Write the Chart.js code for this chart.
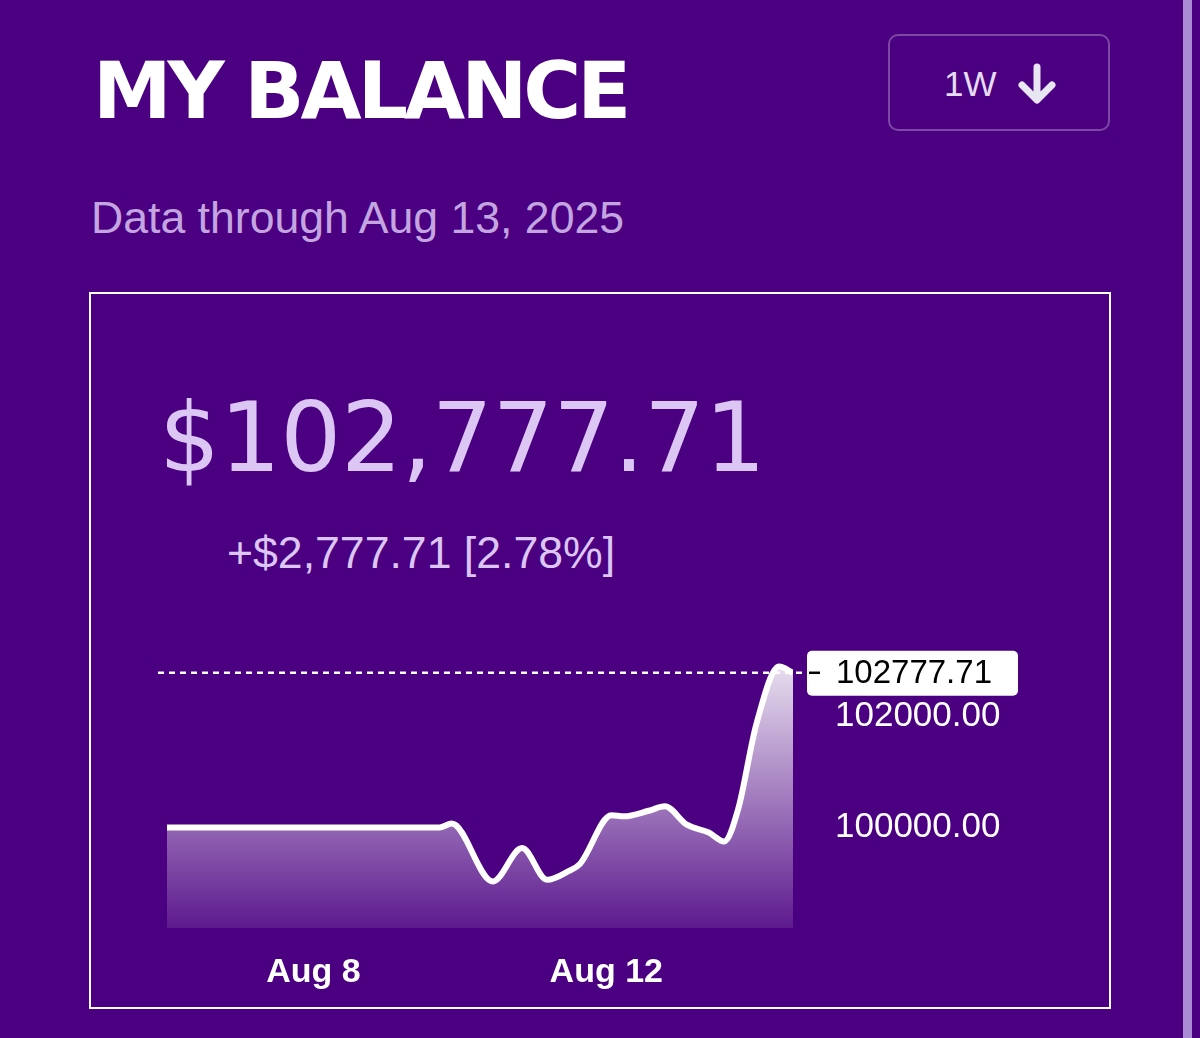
<!DOCTYPE html>
<html>
<head>
<meta charset="utf-8">
<title>My Balance</title>
<script src="https://cdn.jsdelivr.net/npm/chart.js@4.4.1/dist/chart.umd.min.js"></script>
<style>
  html, body {
    margin: 0;
    padding: 0;
    width: 1200px;
    height: 1038px;
    overflow: hidden;
    background: #4b0082;
    font-family: "Liberation Sans", Arial, sans-serif;
  }
  .stripe {
    position: absolute;
    left: 1183px;
    top: 0;
    width: 9px;
    height: 1038px;
    background: #a98bd4;
  }
  .title {
    position: absolute;
    left: 93px;
    top: 52px;
    font-family: "DejaVu Sans", sans-serif;
    font-weight: bold;
    font-size: 79px;
    line-height: 79px;
    letter-spacing: -4px;
    color: #ffffff;
    white-space: nowrap;
  }
  .range-btn {
    position: absolute;
    left: 888px;
    top: 34px;
    width: 218px;
    height: 93px;
    border: 2px solid rgba(255, 255, 255, 0.28);
    border-radius: 10px;
  }
  .range-btn span {
    position: absolute;
    left: 54px;
    top: 30px;
    font-size: 35px;
    line-height: 35px;
    color: #e6dcf2;
  }
  .range-btn svg {
    position: absolute;
    left: 127px;
    top: 27px;
  }
  .subtitle {
    position: absolute;
    left: 91px;
    top: 196px;
    font-size: 44.6px;
    line-height: 44px;
    color: #c3a6e0;
    white-space: nowrap;
  }
  .box {
    position: absolute;
    left: 89px;
    top: 292px;
    width: 1018px;
    height: 713px;
    border: 2px solid #ffffff;
  }
  .amount {
    position: absolute;
    left: 159px;
    top: 390px;
    font-family: "DejaVu Sans", sans-serif;
    font-size: 96px;
    line-height: 96px;
    letter-spacing: -0.4px;
    color: #dcc6f4;
    white-space: nowrap;
  }
  .change {
    position: absolute;
    left: 227px;
    top: 531px;
    font-size: 44.6px;
    line-height: 44px;
    color: #dcc6f4;
    white-space: nowrap;
  }
  .chart-wrap {
    position: absolute;
    left: 92px;
    top: 600px;
    width: 1016px;
    height: 404px;
  }
</style>
</head>
<body>
<div class="stripe"></div>
<div class="title">MY BALANCE</div>
<div class="range-btn">
  <span>1W</span>
  <svg width="40" height="42" viewBox="0 0 40 42">
    <path d="M20 4 L20 36 M5 22 L20 37 L35 22" fill="none" stroke="#e8e6f2" stroke-width="7" stroke-linecap="round" stroke-linejoin="round"/>
  </svg>
</div>
<div class="subtitle">Data through Aug 13, 2025</div>
<div class="box"></div>
<div class="amount">$102,777.71</div>
<div class="change">+$2,777.71 [2.78%]</div>
<div class="chart-wrap"><canvas id="balanceChart" width="1016" height="404"></canvas></div>

<script>
// time in days from Aug 6, balance in dollars
const days = [0, 1, 2, 3, 3.72, 3.89, 4.45, 4.85, 5.19, 5.49, 5.64, 6.07, 6.24, 6.58, 6.8, 7.1, 7.4, 7.61, 7.8, 8.05, 8.36, 8.55];
const balance = [100000, 100000, 100000, 100000, 100000, 100070, 99030, 99630, 99060, 99220, 99345, 100220, 100200, 100300, 100380, 100050, 99910, 99750, 100324, 101858, 102890, 102777.71];

const xTickValues = [2, 6];
const xTickLabels = ["Aug 8", "Aug 12"];
const yTickValues = [100000, 102000];

const lastValue = balance[balance.length - 1];

// dashed line to the last value plus the white value tag on the axis
const lastValuePlugin = {
  id: "lastValue",
  afterDatasetsDraw(chart) {
    const { ctx, chartArea, scales } = chart;
    const y = scales.y.getPixelForValue(lastValue);
    ctx.save();
    ctx.strokeStyle = "#ffffff";
    ctx.lineWidth = 2.5;
    ctx.setLineDash([6, 5]);
    ctx.beginPath();
    ctx.moveTo(chartArea.left - 9, y);
    ctx.lineTo(chartArea.right + 14, y);
    ctx.stroke();
    ctx.setLineDash([]);

    const bx = chartArea.right + 14;
    ctx.fillStyle = "#ffffff";
    ctx.beginPath();
    ctx.roundRect(bx, y - 22, 211, 45, 5);
    ctx.fill();

    ctx.strokeStyle = "#000000";
    ctx.lineWidth = 2.5;
    ctx.beginPath();
    ctx.moveTo(bx + 2, y);
    ctx.lineTo(bx + 13, y);
    ctx.stroke();

    ctx.fillStyle = "#000000";
    ctx.font = "33px 'Liberation Sans', Arial, sans-serif";
    ctx.textBaseline = "middle";
    ctx.fillText(lastValue.toFixed(2), bx + 29, y + 1);
    ctx.restore();
  }
};

const ctx = document.getElementById("balanceChart");

new Chart(ctx, {
  type: "line",
  data: {
    datasets: [
      {
        label: "Balance",
        data: days.map((d, i) => ({ x: d, y: balance[i] })),
        borderColor: "#ffffff",
        borderWidth: 6,
        pointRadius: 0,
        cubicInterpolationMode: "monotone",
        fill: "start",
        backgroundColor: (context) => {
          const area = context.chart.chartArea;
          if (!area) return "rgba(255,255,255,0.4)";
          const g = context.chart.ctx.createLinearGradient(0, area.top, 0, area.bottom);
          g.addColorStop(0, "rgba(255,255,255,0.9)");
          g.addColorStop(1, "rgba(255,255,255,0.1)");
          return g;
        },
      },
    ],
  },
  options: {
    responsive: false,
    animation: false,
    layout: {
      padding: { left: 75, top: 37, right: 75, bottom: 0 },
    },
    plugins: {
      legend: { display: false },
      tooltip: { enabled: false },
    },
    scales: {
      x: {
        type: "linear",
        min: 0,
        max: 8.55,
        grid: { display: false },
        border: { display: false },
        afterBuildTicks: (axis) => {
          axis.ticks = xTickValues.map((v) => ({ value: v }));
        },
        afterFit: (axis) => {
          axis.height = 76;
        },
        ticks: {
          color: "#ffffff",
          padding: 16,
          maxRotation: 0,
          font: { family: "'Liberation Sans', Arial, sans-serif", size: 34, weight: "bold" },
          callback: (value) => {
            const i = xTickValues.indexOf(value);
            return i >= 0 ? xTickLabels[i] : "";
          },
        },
      },
      y: {
        position: "right",
        min: 98195,
        max: 103097,
        grid: { display: false },
        border: { display: false },
        afterBuildTicks: (axis) => {
          axis.ticks = yTickValues.map((v) => ({ value: v }));
        },
        afterFit: (axis) => {
          axis.width = 240;
        },
        ticks: {
          color: "#ffffff",
          padding: 34,
          font: { family: "'Liberation Sans', Arial, sans-serif", size: 35 },
          callback: (value) => Number(value).toFixed(2),
        },
      },
    },
  },
  plugins: [lastValuePlugin],
});
</script>
</body>
</html>
